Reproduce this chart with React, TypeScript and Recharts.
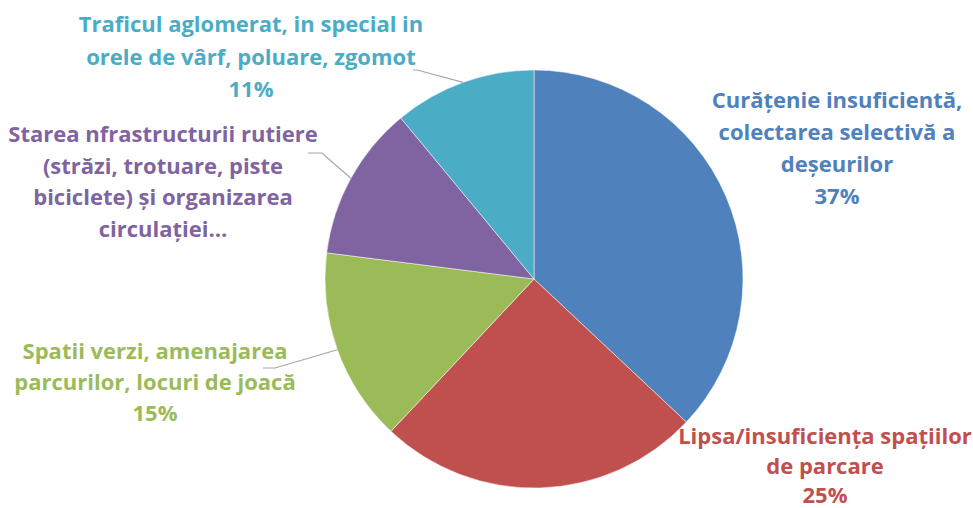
import React from 'react';
import { PieChart, Pie, Cell } from 'recharts';

const categories = [
  'Curățenie insuficientă, colectarea selectivă a deșeurilor',
  'Lipsa/insuficiența spațiilor de parcare',
  'Spatii verzi, amenajarea parcurilor, locuri de joacă',
  'Starea nfrastructurii rutiere (străzi, trotuare, piste biciclete) și organizarea circulației',
  'Traficul aglomerat, in special in orele de vârf, poluare, zgomot',
];
const values = [37, 25, 15, 12, 11];
const wrappedLabels = [
  ['Curățenie insuficientă,', 'colectarea selectivă a', 'deșeurilor'],
  ['Lipsa/insuficiența spațiilor', 'de parcare'],
  ['Spatii verzi, amenajarea', 'parcurilor, locuri de joacă'],
  ['Starea nfrastructurii rutiere', '(străzi, trotuare, piste', 'biciclete) și organizarea', 'circulației…'],
  ['Traficul aglomerat, in special in', 'orele de vârf, poluare, zgomot'],
];
const showPercent = [true, true, true, false, true];
const colors = ['#4F81BD', '#C0504D', '#9BBB59', '#8064A2', '#4BACC6'];

const data = categories.map((name, i) => ({ name, value: values[i] }));

// layout: label block centre offsets from pie centre (first line), line spacing
const labelLayout = [
  { dx: 303, dy: -180, lh: 32 },
  { dx: 291, dy: 156, lh: 29.5 },
  { dx: -379, dy: 71, lh: 31 },
  { dx: -371, dy: -146, lh: 31.5 },
  { dx: -283, dy: -256, lh: 32.5 },
];
// leader line elbows relative to pie centre (null = no line)
const leaders: (number[][] | null)[] = [
  null,
  null,
  [[-259, 89], [-271, 89]],
  [[-212, -126], [-226, -126]],
  [[-117, -209], [-121, -209]],
];

const RAD = Math.PI / 180;

const renderLabel = (props: any) => {
  const { cx, cy, midAngle, outerRadius, index } = props;
  const lay = labelLayout[index];
  const lines = [...wrappedLabels[index]];
  if (showPercent[index]) lines.push(`${values[index]}%`);
  const x = cx + lay.dx;
  const lead = leaders[index];
  let path: string | null = null;
  if (lead) {
    const sx = cx + outerRadius * Math.cos(-midAngle * RAD);
    const sy = cy + outerRadius * Math.sin(-midAngle * RAD);
    path = `M${sx},${sy}` + lead.map((p) => ` L${cx + p[0]},${cy + p[1]}`).join('');
  }
  return (
    <g key={`lbl-${index}`}>
      {path && <path d={path} stroke="#A6A6A6" strokeWidth={1.2} fill="none" />}
      <text
        x={x}
        y={cy + lay.dy}
        fill={colors[index]}
        textAnchor="middle"
        dominantBaseline="central"
        style={{ fontFamily: '"Open Sans", Lato, sans-serif', fontWeight: 700, fontSize: 22 }}
      >
        {lines.map((l, i) => (
          <tspan key={i} x={x} y={cy + lay.dy + i * lay.lh}>
            {l}
          </tspan>
        ))}
      </text>
    </g>
  );
};

export default function App() {
  return (
    <div style={{ position: 'absolute', left: 0, top: 0, width: 973, height: 508, background: '#fff' }}>
      <PieChart width={973} height={508} margin={{ top: 0, right: 0, bottom: 0, left: 0 }}>
        <Pie
          data={data}
          dataKey="value"
          nameKey="name"
          cx={534}
          cy={279}
          outerRadius={209}
          startAngle={90}
          endAngle={-270}
          stroke="#FFFFFF"
          strokeWidth={0.5}
          isAnimationActive={false}
          label={renderLabel}
          labelLine={false}
        >
          {data.map((d, i) => (
            <Cell key={d.name} fill={colors[i]} />
          ))}
        </Pie>
      </PieChart>
    </div>
  );
}
